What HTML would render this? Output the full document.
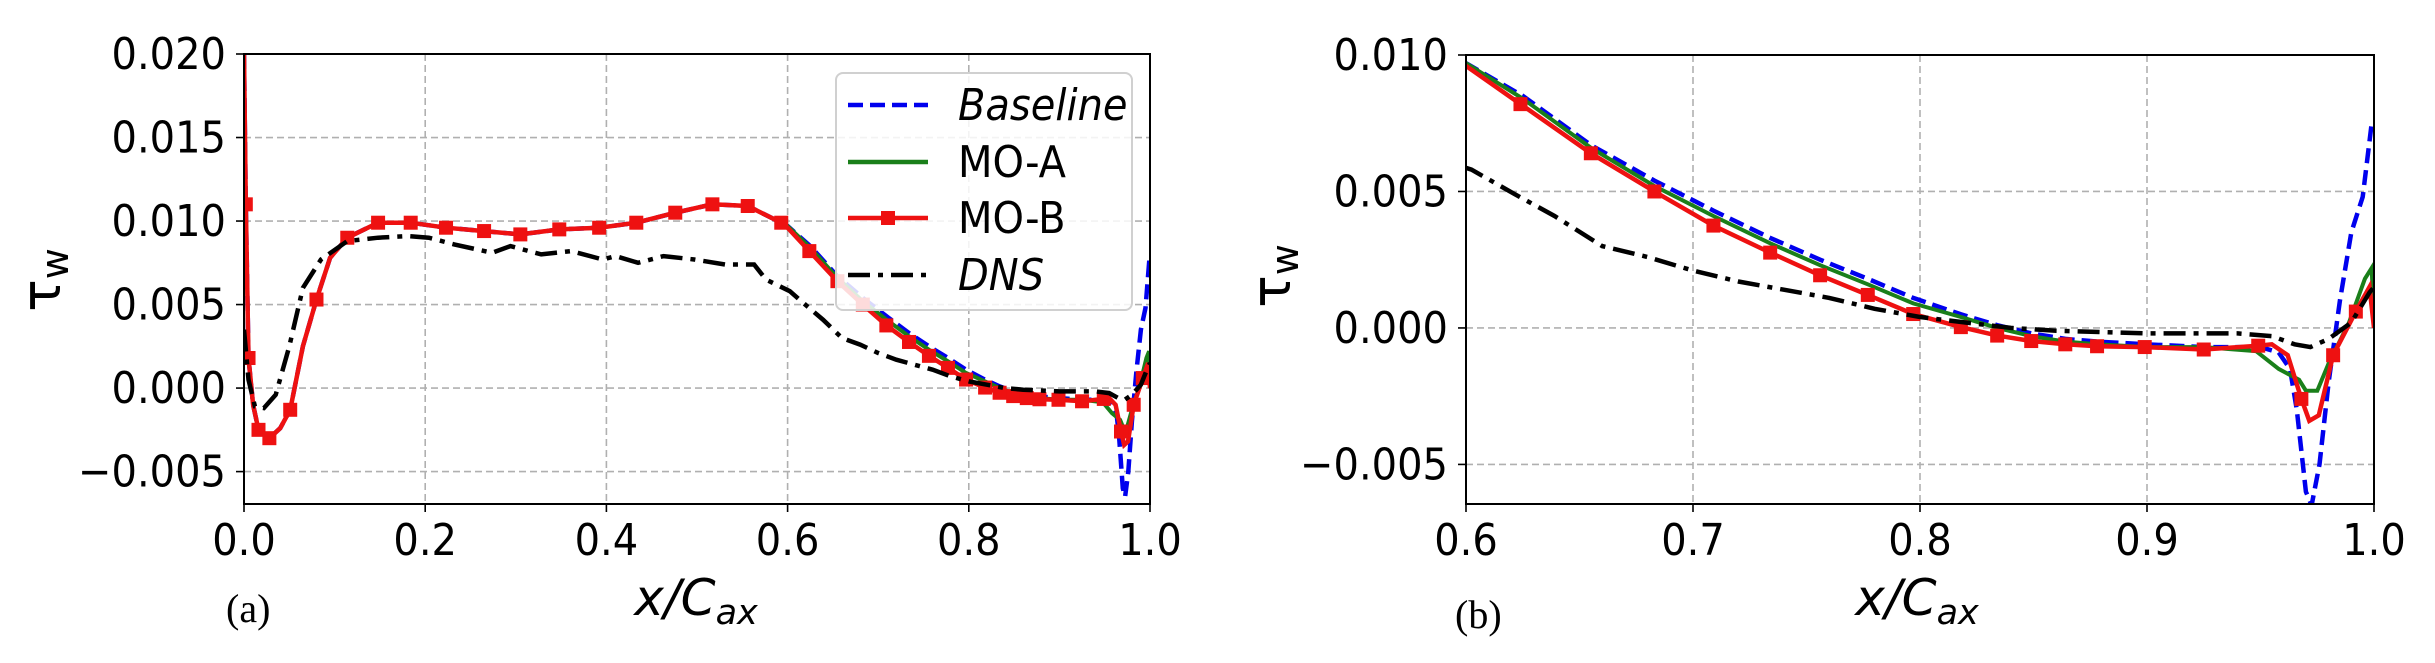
<!DOCTYPE html>
<html><head><meta charset="utf-8">
<style>
html,body{margin:0;padding:0;background:#fff;}
svg{display:block;}
text{font-family:"DejaVu Sans","Liberation Sans",sans-serif;}
text.serif{font-family:"Liberation Serif","DejaVu Serif",serif;}
</style></head>
<body>
<svg id="fig" width="2435" height="663" viewBox="0 0 2435 663" xmlns="http://www.w3.org/2000/svg"></svg>
<script>
// ---- data ----
const baselineX = [0,0.002,0.005,0.01,0.016,0.028,0.04,0.051,0.065,0.08,0.095,0.114,0.148,0.184,0.223,0.265,0.305,0.348,0.392,0.433,0.476,0.517,0.556,0.593,0.6,0.625,0.655,0.683,0.709,0.734,0.756,0.777,0.797,0.818,0.834,0.849,0.864,0.878,0.9,0.925,0.95,0.958,0.963,0.966,0.97,0.9725,0.976,0.98,0.985,0.99,0.995,0.999,1.0];
const baselineY = [0.0200,0.011,0.0018,-0.001,-0.0025,-0.003,-0.0024,-0.0013,0.0025,0.0053,0.0078,0.009,0.0099,0.0099,0.0096,0.0094,0.0092,0.0095,0.0096,0.0099,0.0105,0.011,0.0109,0.0099,0.0097,0.0085,0.0067,0.0054,0.0043,0.0033,0.0025,0.0018,0.0011,0.0005,0.0001,-0.0002,-0.0004,-0.0005,-0.0006,-0.0007,-0.0007,-0.0009,-0.0015,-0.003,-0.006,-0.0065,-0.005,-0.002,0.001,0.0035,0.0048,0.0075,0.0075];
const moaX = [0,0.002,0.005,0.01,0.016,0.028,0.04,0.051,0.065,0.08,0.095,0.114,0.148,0.184,0.223,0.265,0.305,0.348,0.392,0.433,0.476,0.517,0.556,0.593,0.6,0.625,0.655,0.683,0.709,0.734,0.756,0.777,0.797,0.818,0.834,0.849,0.864,0.878,0.9,0.925,0.948,0.958,0.967,0.97,0.975,0.98,0.989,0.996,0.999,1.0];
const moaY = [0.0200,0.011,0.0018,-0.001,-0.0025,-0.003,-0.0024,-0.0013,0.0025,0.0053,0.0078,0.009,0.0099,0.0099,0.0096,0.0094,0.0092,0.0095,0.0096,0.0099,0.0105,0.011,0.0109,0.0099,0.0097,0.0084,0.0066,0.0052,0.0041,0.0031,0.0023,0.0016,0.0009,0.0004,0.0,-0.0003,-0.0005,-0.0006,-0.0007,-0.0007,-0.00085,-0.0015,-0.0019,-0.0023,-0.0023,-0.0013,0.0002,0.0018,0.0022,0.0];
const mobX = [0,0.002,0.005,0.01,0.016,0.028,0.04,0.051,0.065,0.08,0.095,0.114,0.148,0.184,0.223,0.265,0.305,0.348,0.392,0.433,0.476,0.517,0.556,0.593,0.6,0.624,0.655,0.683,0.709,0.734,0.756,0.777,0.797,0.818,0.834,0.849,0.864,0.878,0.899,0.925,0.949,0.955,0.962,0.968,0.9715,0.9757,0.982,0.992,0.998,1.0];
const mobY = [0.0200,0.011,0.0018,-0.001,-0.0025,-0.003,-0.0024,-0.0013,0.0025,0.0053,0.0078,0.009,0.0099,0.0099,0.0096,0.0094,0.0092,0.0095,0.0096,0.0099,0.0105,0.011,0.0109,0.0099,0.0096,0.0082,0.0064,0.005,0.00375,0.00276,0.00193,0.00121,0.00051,0.00003,-0.00028,-0.00048,-0.0006,-0.00067,-0.0007,-0.00079,-0.00065,-0.0006,-0.001,-0.0026,-0.0034,-0.0032,-0.001,0.0006,0.0015,0.0];
const mobMarker = [0,1,1,0,1,1,0,1,0,1,0,1,1,1,1,1,1,1,1,1,1,1,1,1,0,1,1,1,1,1,1,1,1,1,1,1,1,1,1,1,1,0,0,1,0,0,1,1,0,0];
const dnsX = [0,0.005,0.012,0.022,0.035,0.05,0.065,0.085,0.114,0.148,0.181,0.204,0.232,0.274,0.294,0.328,0.361,0.396,0.41,0.435,0.463,0.497,0.531,0.563,0.576,0.6024,0.6215,0.639,0.66,0.68,0.7,0.72,0.74,0.76,0.78,0.8,0.82,0.84,0.86,0.9,0.94,0.955,0.965,0.972,0.98,0.99,0.998,1.0];
const dnsY = [0.0035,0.0005,-0.0011,-0.0012,-0.0004,0.0025,0.006,0.0077,0.0088,0.009,0.0091,0.009,0.0086,0.0081,0.0085,0.008,0.0082,0.0077,0.0079,0.0075,0.0079,0.0077,0.0074,0.0074,0.0065,0.0058,0.0049,0.0041,0.003,0.0026,0.0021,0.0017,0.0014,0.0011,0.0007,0.0004,0.0002,0.0,-0.0001,-0.0002,-0.0002,-0.0003,-0.0006,-0.0007,-0.0004,0.0002,0.0013,0.0015];
const xTicksA = [0.0,0.2,0.4,0.6,0.8,1.0];
const xTickLabelsA = ["0.0","0.2","0.4","0.6","0.8","1.0"];
const yTicksA = [-0.005,0.0,0.005,0.010,0.015,0.020];
const yTickLabelsA = ["\u22120.005","0.000","0.005","0.010","0.015","0.020"];
const xTicksB = [0.6,0.7,0.8,0.9,1.0];
const xTickLabelsB = ["0.6","0.7","0.8","0.9","1.0"];
const yTicksB = [-0.005,0.0,0.005,0.010];
const yTickLabelsB = ["\u22120.005","0.000","0.005","0.010"];

const NS = "http://www.w3.org/2000/svg";
const svg = document.getElementById('fig');
function mk(tag, attrs, parent){
  const e = document.createElementNS(NS, tag);
  for (const k in attrs) e.setAttribute(k, attrs[k]);
  (parent||svg).appendChild(e);
  return e;
}

function drawPanel(id, L, R, T, B, xmin, xmax, ymin, ymax, xt, xtl, yt, ytl){
  const sx = v => L + (v - xmin) / (xmax - xmin) * (R - L);
  const sy = v => B - (v - ymin) / (ymax - ymin) * (B - T);
  const g = mk('g', {});
  
  
  const defs = mk('defs', {}, g);
  const cp = mk('clipPath', {id: 'clip-' + id}, defs);
  mk('rect', {x: L, y: T, width: R - L, height: B - T}, cp);
  xt.forEach((v, i) => {
    if (v > xmin && v < xmax) {
      const gl = mk('line', {x1: sx(v), x2: sx(v), y1: T, y2: B, stroke: '#b0b0b0', 'stroke-width': 1.6, 'stroke-dasharray': '7,4'}, g);
      
      
    }
    const tk = mk('line', {x1: sx(v), x2: sx(v), y1: B, y2: B + 8, stroke: '#000', 'stroke-width': 1.6}, g);
    
    
    const tl = mk('text', {x: sx(v), y: 555, 'font-size': 40, 'text-anchor': 'middle', transform: 'translate(0,555) scale(1,1.1) translate(0,-555)'}, g);
    tl.textContent = xtl[i];
    
    
  });
  yt.forEach((v, i) => {
    if (v > ymin && v < ymax) {
      const gl = mk('line', {x1: L, x2: R, y1: sy(v), y2: sy(v), stroke: '#b0b0b0', 'stroke-width': 1.6, 'stroke-dasharray': '7,4'}, g);
      
      
    }
    const tk = mk('line', {x1: L - 8, x2: L, y1: sy(v), y2: sy(v), stroke: '#000', 'stroke-width': 1.6}, g);
    
    
    const yy = sy(v) + 15;
    const tl = mk('text', {x: L - 18, y: yy, 'font-size': 40, 'text-anchor': 'end', transform: 'translate(0,' + yy + ') scale(1,1.1) translate(0,' + (-yy) + ')'}, g);
    tl.textContent = ytl[i];
    
    
  });
  const plot = mk('g', {'clip-path': 'url(#clip-' + id + ')'}, g);
  const pts = (xs, ys) => xs.map((x, i) => sx(x).toFixed(1) + ',' + sy(ys[i]).toFixed(1)).join(' ');
  const lb = mk('polyline', {points: pts(baselineX, baselineY), fill: 'none', stroke: '#0000ee', 'stroke-width': 4.5, 'stroke-dasharray': '15,7'}, plot);
  
  
  const la = mk('polyline', {points: pts(moaX, moaY), fill: 'none', stroke: '#1a7f1a', 'stroke-width': 4}, plot);
  
  
  const lr = mk('polyline', {points: pts(mobX, mobY), fill: 'none', stroke: '#ee1111', 'stroke-width': 4.5}, plot);
  
  
  mobX.forEach((x, i) => {
    if (!mobMarker[i]) return;
    const m = mk('rect', {x: sx(x) - 7, y: sy(mobY[i]) - 7, width: 14, height: 14, fill: '#ee1111'}, plot);
    
    
  });
  const ld = mk('polyline', {points: pts(dnsX, dnsY), fill: 'none', stroke: '#000', 'stroke-width': 4.5, 'stroke-dasharray': '22,8,5,8'}, plot);
  
  
  const fr = mk('rect', {x: L, y: T, width: R - L, height: B - T, fill: 'none', stroke: '#000', 'stroke-width': 2}, g);
  
  
}

drawPanel('a', 244, 1150, 54, 504, 0, 1, -0.00694, 0.020, xTicksA, xTickLabelsA, yTicksA, yTickLabelsA);
drawPanel('b', 1466, 2374, 55, 504, 0.6, 1.0, -0.00645, 0.0100, xTicksB, xTickLabelsB, yTicksB, yTickLabelsB);

// legend
const lg = mk('g', {});


mk('rect', {x: 836, y: 73, width: 296, height: 237, rx: 7, fill: 'rgba(255,255,255,0.85)', stroke: '#d0d0d0', 'stroke-width': 2}, lg);
const legItems = [
  {name: 'Baseline', italic: true, stroke: '#0000ee', dash: '15,7', y: 105},
  {name: 'MO-A', italic: false, stroke: '#1a7f1a', dash: '', y: 162},
  {name: 'MO-B', italic: false, stroke: '#ee1111', dash: '', y: 218, marker: true},
  {name: 'DNS', italic: true, stroke: '#000', dash: '22,8,5,8', y: 275}
];
legItems.forEach(it => {
  const eg = mk('g', {}, lg);
  
  
  const a = {x1: 848, x2: 928, y1: it.y, y2: it.y, stroke: it.stroke, 'stroke-width': 4.5};
  if (it.dash) a['stroke-dasharray'] = it.dash;
  mk('line', a, eg);
  if (it.marker) mk('rect', {x: 881, y: it.y - 7, width: 14, height: 14, fill: it.stroke}, eg);
  const yy = it.y + 15;
  const t = mk('text', {x: 958, y: yy, 'font-size': 40, 'font-style': it.italic ? 'italic' : 'normal', transform: 'translate(0,' + yy + ') scale(1,1.1) translate(0,' + (-yy) + ')'}, eg);
  t.textContent = it.name;
});

function label(txt, attrs, name, html){
  const t = mk('text', attrs);
  if (html) t.innerHTML = html; else t.textContent = txt;
  
  
  return t;
}
label('', {x: 0, y: 0, 'font-size': 54, transform: 'translate(60,280) rotate(-90)', 'text-anchor': 'middle'}, 'y-axis-title-a', '\u03c4<tspan font-size="38" dy="8">w</tspan>');
label('', {x: 0, y: 0, 'font-size': 54, transform: 'translate(1290,276) rotate(-90)', 'text-anchor': 'middle'}, 'y-axis-title-b', '\u03c4<tspan font-size="38" dy="8">w</tspan>');
label('', {x: 696, y: 615, 'font-size': 50, 'font-style': 'italic', 'text-anchor': 'middle'}, 'x-axis-title-a', 'x/C<tspan font-size="35" dy="9">ax</tspan>');
label('', {x: 1917, y: 615, 'font-size': 50, 'font-style': 'italic', 'text-anchor': 'middle'}, 'x-axis-title-b', 'x/C<tspan font-size="35" dy="9">ax</tspan>');
label('(a)', {x: 226, y: 622, 'font-size': 40, class: 'serif'}, 'panel-label-a');
label('(b)', {x: 1455, y: 628, 'font-size': 40, class: 'serif'}, 'panel-label-b');
</script>
</body></html>
